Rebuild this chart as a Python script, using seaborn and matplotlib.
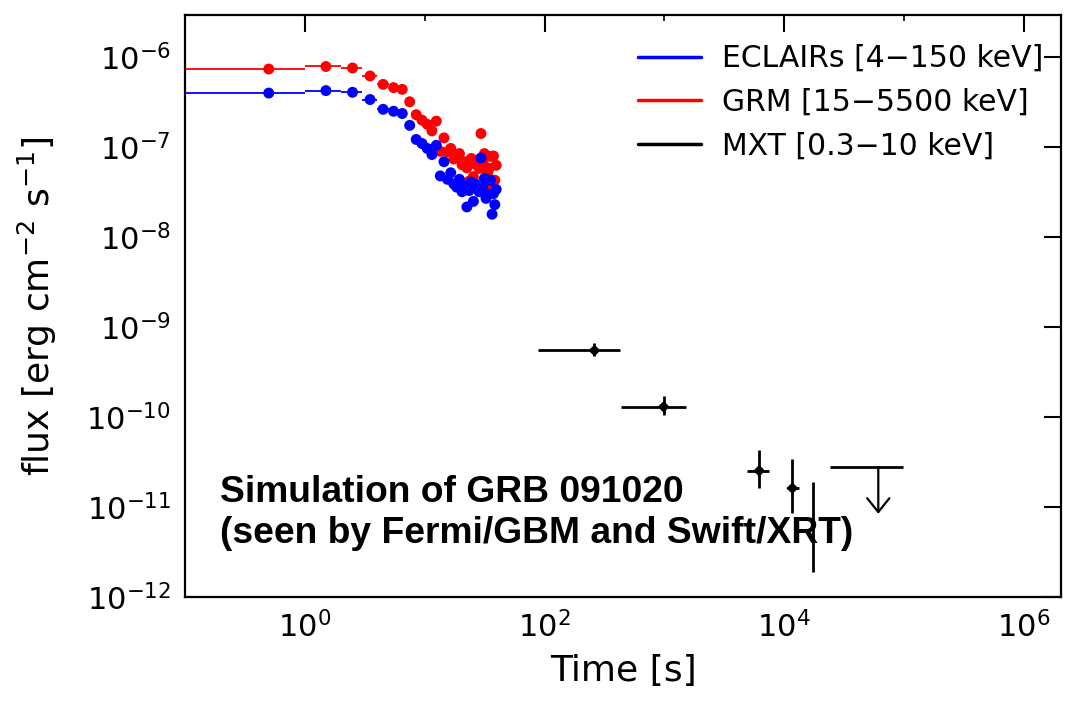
import numpy as np
import pandas as pd
import matplotlib
matplotlib.use("Agg")
import matplotlib.pyplot as plt
import seaborn as sns
from matplotlib.ticker import FixedLocator, LogFormatterMathtext, NullFormatter
from matplotlib.lines import Line2D

# ---------------- data ----------------
# ECLAIRs / GRM light curve, 1-s bins (bin centres, half widths)
t_bins = [0.5, 1.5, 2.5, 3.5, 4.5, 5.5, 6.5, 7.5, 8.5, 9.5,
          10.5, 11.5, 12.5, 13.5, 14.5, 15.5, 16.5, 17.5, 18.5, 19.5,
          20.5, 21.5, 22.5, 23.5, 24.5, 25.5, 26.5, 27.5, 28.5, 29.5,
          30.5, 31.5, 32.5, 33.5, 34.5, 35.5, 36.5, 37.5, 38.5, 39.5]
t_halfwidth = [0.5] * len(t_bins)

grm_flux = [7.4e-7, 7.9e-7, 7.6e-7, 6.2e-7, 5.0e-7, 4.6e-7, 4.4e-7, 3.2e-7, 2.3e-7, 2.0e-7,
            1.8e-7, 1.52e-7, 1.95e-7, 9.0e-8, 1.27e-7, 8.9e-8, 9.7e-8, 7.4e-8, 8.0e-8, 8.5e-8,
            6.4e-8, 6.9e-8, 5.9e-8, 4.2e-8, 7.5e-8, 4.7e-8, 6.5e-8, 7.2e-8, 5.8e-8, 1.42e-7,
            6.8e-8, 8.5e-8, 6.0e-8, 5.2e-8, 5.8e-8, 7.9e-8, 3.6e-8, 8.0e-8, 4.3e-8, 6.3e-8]

eclairs_flux = [4.0e-7, 4.26e-7, 4.08e-7, 3.39e-7, 2.64e-7, 2.51e-7, 2.37e-7, 1.75e-7, 1.22e-7, 1.1e-7,
                9.7e-8, 8.3e-8, 1.05e-7, 4.8e-8, 6.9e-8, 4.4e-8, 5.2e-8, 3.9e-8, 3.6e-8, 4.4e-8,
                3.2e-8, 3.7e-8, 2.17e-8, 3.3e-8, 4.1e-8, 2.5e-8, 3.9e-8, 3.6e-8, 3.2e-8, 7.6e-8,
                3.5e-8, 4.5e-8, 2.7e-8, 3.0e-8, 4.3e-8, 4.3e-8, 1.8e-8, 3.05e-8, 2.3e-8, 3.4e-8]

# MXT detections
mxt_t = [261, 987, 6190, 11700]
mxt_t_lo = [88, 438, 4940, 10500]
mxt_t_hi = [430, 1515, 7400, 13200]
mxt_flux = [5.5e-10, 1.3e-10, 2.53e-11, 1.62e-11]
mxt_flux_lo = [4.76e-10, 1.05e-10, 1.64e-11, 8.5e-12]
mxt_flux_hi = [6.6e-10, 1.73e-10, 4.3e-11, 3.39e-11]

# MXT faint point (error bar only)
mxt_faint_t = [17500]
mxt_faint_lo = [1.9e-12]
mxt_faint_hi = [1.88e-11]

# MXT upper limit
ul_t = 6.1e4
ul_t_lo = 2.39e4
ul_t_hi = 9.87e4
ul_flux = 2.76e-11
ul_arrow_tip = 8.4e-12

legend_labels = ["ECLAIRs [4\u2212150 keV]", "GRM [15\u22125500 keV]", "MXT [0.3\u221210 keV]"]
legend_colors = ["#0000ff", "#ff0000", "#000000"]

x_major = [1e0, 1e2, 1e4, 1e6]
x_minor = [1e-1, 1e1, 1e3, 1e5]
y_major = [1e-12, 1e-11, 1e-10, 1e-9, 1e-8, 1e-7, 1e-6]

# ---------------- style ----------------
sns.set_theme(style="white")
plt.rcParams["font.family"] = ["DejaVu Sans"]
plt.rcParams["mathtext.fontset"] = "dejavusans"
plt.rcParams["text.color"] = "black"
plt.rcParams["axes.labelcolor"] = "black"
plt.rcParams["xtick.color"] = "black"
plt.rcParams["ytick.color"] = "black"

fig = plt.figure(figsize=(10.66, 7.03), dpi=100)
ax = fig.add_axes([185 / 1066, 1 - 597 / 703, (1061 - 185) / 1066, (597 - 15) / 703])
ax.set_xscale("log", nonpositive="clip")
ax.set_yscale("log")
ax.set_xlim(0.1, 10 ** 6.31)
ax.set_ylim(1e-12, 10 ** -5.53)

df = pd.DataFrame({"t": t_bins, "dt": t_halfwidth, "grm": grm_flux, "eclairs": eclairs_flux})

# bin widths
ax.errorbar(df["t"], df["grm"], xerr=df["dt"], fmt="none", ecolor="#ff0000", elinewidth=1.3, capsize=0)
ax.errorbar(df["t"], df["eclairs"], xerr=df["dt"], fmt="none", ecolor="#0000ff", elinewidth=1.3, capsize=0)

sns.scatterplot(data=df, x="t", y="grm", ax=ax, color="#ff0000", s=62, edgecolor="none", zorder=3)
sns.scatterplot(data=df, x="t", y="eclairs", ax=ax, color="#0000ff", s=62, edgecolor="none", zorder=3)

# MXT
mt = np.array(mxt_t, dtype=float)
mf = np.array(mxt_flux)
xerr = [mt - np.array(mxt_t_lo), np.array(mxt_t_hi) - mt]
yerr = [mf - np.array(mxt_flux_lo), np.array(mxt_flux_hi) - mf]
ax.errorbar(mt, mf, xerr=xerr, yerr=yerr, fmt="none", ecolor="black", elinewidth=2.0, capsize=0, zorder=4)
sns.scatterplot(x=mt, y=mf, ax=ax, color="black", marker="D", s=36, edgecolor="none", zorder=5)
ax.vlines(mxt_faint_t, mxt_faint_lo, mxt_faint_hi, color="black", lw=2.0, zorder=4)

ax.hlines(ul_flux, ul_t_lo, ul_t_hi, color="black", lw=2.0)
ax.annotate("", xy=(ul_t, ul_arrow_tip), xytext=(ul_t, ul_flux),
            arrowprops=dict(arrowstyle="->,head_length=0.5,head_width=0.4", lw=1.6, color="black",
                            shrinkA=0, shrinkB=0, mutation_scale=20))

# ticks
ax.xaxis.set_major_locator(FixedLocator(x_major))
ax.xaxis.set_minor_locator(FixedLocator(x_minor))
ax.xaxis.set_major_formatter(LogFormatterMathtext())
ax.xaxis.set_minor_formatter(NullFormatter())
ax.yaxis.set_major_locator(FixedLocator(y_major))
ax.yaxis.set_minor_locator(FixedLocator([]))
ax.yaxis.set_major_formatter(LogFormatterMathtext())
ax.tick_params(which="major", direction="in", length=12, width=1.5, top=True, right=True,
               labelsize=22, pad=10, colors="black")
ax.tick_params(which="minor", direction="in", length=4, width=1.2, top=True, right=True)
for sp in ax.spines.values():
    sp.set_linewidth(1.6)
    sp.set_color("black")

ax.set_xlabel("Time [s]", fontsize=26, labelpad=8)
ax.set_ylabel("flux [erg cm$^{-2}$ s$^{-1}$]", fontsize=26, labelpad=20)

# annotation
ax.text(0.04, 0.1632, "Simulation of GRB 091020", transform=ax.transAxes, fontsize=26.8,
        fontweight="bold", family="Liberation Sans", va="baseline", ha="left", color="black", zorder=6)
ax.text(0.04, 0.0928, "(seen by Fermi/GBM and Swift/XRT)", transform=ax.transAxes, fontsize=26.8,
        fontweight="bold", family="Liberation Sans", va="baseline", ha="left", color="black", zorder=6)

handles = [Line2D([0], [0], color=c, lw=2.5) for c in legend_colors]
ax.legend(handles, legend_labels, loc="upper left", bbox_to_anchor=(638 / 1066, 1 - 44 / 703),
          bbox_transform=fig.transFigure, frameon=False, fontsize=21.5, handlelength=2.1,
          handletextpad=0.7, labelspacing=0.5, borderpad=0, borderaxespad=0, labelcolor="black")

fig.savefig("out.png", dpi=100)
